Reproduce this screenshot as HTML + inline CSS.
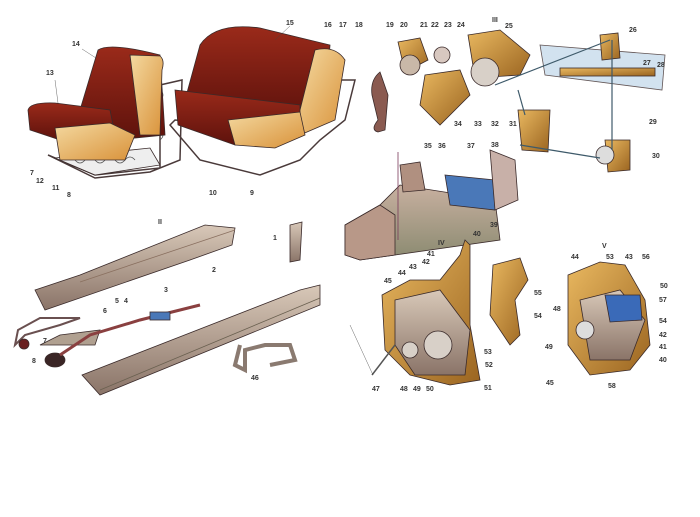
<!DOCTYPE html>
<html><head><meta charset="utf-8"><style>
html,body{margin:0;padding:0;background:#fff;width:700px;height:517px;overflow:hidden}
svg{display:block}
text{font-family:"Liberation Sans",sans-serif;font-size:7px;font-weight:bold;fill:#333}
</style></head><body>
<svg width="700" height="517" viewBox="0 0 700 517">
<defs>
<linearGradient id="red" x1="0" y1="0" x2="0" y2="1"><stop offset="0" stop-color="#9a2a1a"/><stop offset="1" stop-color="#5e120c"/></linearGradient>
<linearGradient id="tan" x1="0" y1="0" x2="1" y2="1"><stop offset="0" stop-color="#f4d9a0"/><stop offset="1" stop-color="#d9923a"/></linearGradient>
<linearGradient id="met" x1="0" y1="0" x2="0" y2="1"><stop offset="0" stop-color="#d8c8b8"/><stop offset="1" stop-color="#8a7468"/></linearGradient>
<linearGradient id="gold" x1="0" y1="0" x2="1" y2="1"><stop offset="0" stop-color="#e9b860"/><stop offset="1" stop-color="#9a6420"/></linearGradient>
<linearGradient id="grn" x1="0" y1="0" x2="0" y2="1"><stop offset="0" stop-color="#c8b0a0"/><stop offset="1" stop-color="#8a8a70"/></linearGradient>
</defs>
<g stroke="#3a2a2a" stroke-width="0.8">
<!-- left seat frame -->
<path d="M48,155 L95,175 L160,168 L160,85 L182,80 L180,160 L150,172 L95,178 Z" fill="none" stroke="#4a3a3a" stroke-width="1.5"/>
<path d="M55,158 L150,148 L160,165 L95,175 Z" fill="#eee"/>
<path d="M65,160 q5,-6 10,0 q5,6 10,0 q5,-6 10,0 q5,6 10,0 q5,-6 10,0 q5,6 10,0 q5,-6 10,0 M160,90 q6,5 0,10 q-6,5 0,10 q6,5 0,10 q-6,5 0,10 q6,5 0,10" fill="none" stroke="#555"/>
<path d="M98,50 Q110,42 160,55 L165,135 L115,140 L80,110 Z" fill="url(#red)"/>
<path d="M130,55 L160,56 Q165,60 162,70 L160,135 L140,135 Z" fill="url(#tan)"/>
<path d="M28,110 Q30,102 55,103 L110,110 L115,135 L60,140 L30,130 Z" fill="url(#red)"/>
<path d="M55,128 L110,123 L135,135 L125,160 L60,160 Z" fill="url(#tan)"/>
<!-- bench -->
<path d="M170,125 L200,160 L260,175 L300,160 L320,140 L345,120 L355,80 L340,80 L300,130 L175,120 Z" fill="none" stroke="#4a3a3a" stroke-width="1.5"/>
<path d="M200,45 Q215,22 260,28 L330,45 L325,110 L230,118 L185,100 Z" fill="url(#red)"/>
<path d="M175,90 L300,105 L300,135 L235,145 L178,125 Z" fill="url(#red)"/>
<path d="M315,50 Q335,45 345,60 L335,120 L300,135 L300,110 Z" fill="url(#tan)"/>
<path d="M228,120 L300,112 L305,135 L275,148 L235,145 Z" fill="url(#tan)"/>
<!-- window mechanism -->
<path d="M380,72 Q370,80 372,95 L378,120 Q370,130 378,132 L385,130 L388,95 Z" fill="#8a5a50"/>
<path d="M398,42 L420,38 L428,60 L405,72 Z" fill="url(#gold)"/>
<circle cx="410" cy="65" r="10" fill="#c9b8a8"/>
<circle cx="442" cy="55" r="8" fill="#d8c8c0"/>
<path d="M425,75 L460,70 L470,95 L440,125 L420,105 Z" fill="url(#gold)"/>
<path d="M468,35 L500,30 L530,55 L520,75 L475,78 Z" fill="url(#gold)"/>
<circle cx="485" cy="72" r="14" fill="#d8d0c8"/>
<path d="M540,45 L665,55 L662,90 L545,75 Z" fill="#c8dcec" opacity="0.8"/>
<rect x="560" y="68" width="95" height="8" fill="url(#gold)"/>
<path d="M600,35 L618,33 L620,58 L602,60 Z" fill="url(#gold)"/>
<path d="M518,110 L550,110 L548,152 L522,150 Z" fill="url(#gold)"/>
<path d="M605,140 L630,140 L630,170 L608,172 Z" fill="url(#gold)"/>
<circle cx="605" cy="155" r="9" fill="#ddd"/>
<g stroke="#3e5a6a" stroke-width="1.2" fill="none">
<line x1="495" y1="85" x2="610" y2="40"/><line x1="520" y1="145" x2="600" y2="158"/><line x1="612" y1="40" x2="612" y2="150"/><line x1="518" y1="90" x2="525" y2="115"/></g>
<!-- door handle -->
<path d="M345,225 L380,205 L400,185 L495,200 L500,240 L360,260 L345,255 Z" fill="url(#grn)"/>
<path d="M345,225 L380,205 L395,215 L395,255 L360,260 L345,255 Z" fill="#b89888"/>
<path d="M400,165 L420,162 L425,190 L403,192 Z" fill="#b09080"/>
<path d="M445,175 L495,180 L495,210 L450,205 Z" fill="#4a78b8"/>
<path d="M490,150 L515,160 L518,200 L495,210 Z" fill="#c8b0a8"/>
<line x1="398" y1="152" x2="398" y2="240" stroke="#7a3a5a"/>
<!-- lock IV -->
<path d="M382,295 L410,280 L440,280 L460,255 L465,240 L470,245 L470,325 L480,380 L450,385 L410,375 L385,350 Z" fill="url(#gold)"/>
<path d="M395,300 L440,290 L470,330 L465,375 L415,375 L395,345 Z" fill="url(#met)"/>
<circle cx="438" cy="345" r="14" fill="#d8d0c8"/>
<circle cx="410" cy="350" r="8" fill="#d8d0c8"/>
<line x1="372" y1="375" x2="395" y2="345" stroke="#555" stroke-width="1.5"/>
<path d="M493,265 L520,258 L528,280 L515,300 L520,335 L510,345 L490,315 Z" fill="url(#gold)"/>
<!-- lock V -->
<path d="M568,275 L600,262 L625,265 L645,300 L650,345 L630,370 L590,375 L568,345 Z" fill="url(#gold)"/>
<path d="M580,300 L620,290 L645,320 L630,360 L590,360 Z" fill="url(#met)"/>
<path d="M605,295 L640,295 L642,320 L610,322 Z" fill="#3a6ab8"/>
<circle cx="585" cy="330" r="9" fill="#ddd"/>
<!-- rails II -->
<path d="M35,290 L80,275 L205,225 L235,228 L232,245 L190,260 L45,310 Z" fill="url(#met)"/>
<path d="M80,282 L235,230" stroke="#8a7060"/>
<path d="M82,375 L300,290 L320,285 L320,305 L100,395 Z" fill="url(#met)"/>
<path d="M100,390 L320,298" stroke="#6a6050"/>
<path d="M290,225 L302,222 L300,260 L290,262 Z" fill="url(#met)"/>
<path d="M15,345 L18,330 L40,318 L80,318 L60,325 L25,335 Z" fill="none" stroke="#6a5050" stroke-width="2"/>
<circle cx="24" cy="344" r="5" fill="#6a2020"/>
<path d="M40,345 L60,335 L100,330 L95,345 Z" fill="#b0a090"/>
<ellipse cx="55" cy="360" rx="10" ry="7" fill="#3a2525"/>
<path d="M60,355 L90,335 L140,320 L200,305" stroke="#8a4040" stroke-width="3" fill="none"/>
<rect x="150" y="312" width="20" height="8" fill="#4a78b8"/>
<path d="M240,345 L235,365 L245,370 L245,350 L265,345 L290,345 L295,360 L270,365" fill="none" stroke="#8a7a70" stroke-width="4"/>
</g>
<g stroke="#444" stroke-width="0.4" fill="none">
<line x1="82" y1="49" x2="96" y2="58"/><line x1="55" y1="80" x2="58" y2="103"/>
<line x1="290" y1="26" x2="275" y2="40"/><line x1="373" y1="375" x2="350" y2="325"/>
</g>
<g>
<text x="72" y="46">14</text><text x="46" y="75">13</text><text x="286" y="25">15</text><text x="324" y="27">16</text><text x="339" y="27">17</text><text x="355" y="27">18</text>
<text x="30" y="175">7</text><text x="36" y="183">12</text><text x="52" y="190">11</text><text x="67" y="197">8</text><text x="209" y="195">10</text><text x="250" y="195">9</text>
<text x="386" y="27">19</text><text x="400" y="27">20</text><text x="420" y="27">21</text><text x="431" y="27">22</text><text x="444" y="27">23</text><text x="457" y="27">24</text><text x="492" y="22">III</text><text x="505" y="28">25</text>
<text x="629" y="32">26</text><text x="643" y="65">27</text><text x="657" y="67">28</text><text x="649" y="124">29</text><text x="652" y="158">30</text><text x="509" y="126">31</text><text x="491" y="126">32</text><text x="474" y="126">33</text><text x="454" y="126">34</text>
<text x="424" y="148">35</text><text x="438" y="148">36</text><text x="467" y="148">37</text><text x="491" y="147">38</text><text x="490" y="227">39</text><text x="473" y="236">40</text><text x="438" y="245">IV</text>
<text x="427" y="256">41</text><text x="422" y="264">42</text><text x="409" y="269">43</text><text x="398" y="275">44</text><text x="384" y="283">45</text>
<text x="372" y="391">47</text><text x="400" y="391">48</text><text x="413" y="391">49</text><text x="426" y="391">50</text><text x="484" y="390">51</text><text x="485" y="367">52</text><text x="484" y="354">53</text><text x="534" y="295">55</text><text x="534" y="318">54</text>
<text x="602" y="248">V</text><text x="571" y="259">44</text><text x="606" y="259">53</text><text x="625" y="259">43</text><text x="642" y="259">56</text><text x="660" y="288">50</text><text x="659" y="302">57</text><text x="659" y="323">54</text><text x="659" y="337">42</text><text x="659" y="349">41</text><text x="659" y="362">40</text>
<text x="553" y="311">48</text><text x="545" y="349">49</text><text x="546" y="385">45</text><text x="608" y="388">58</text>
<text x="158" y="224">II</text><text x="273" y="240">1</text><text x="212" y="272">2</text><text x="164" y="292">3</text><text x="124" y="303">4</text><text x="115" y="303">5</text><text x="103" y="313">6</text><text x="32" y="363">8</text><text x="43" y="343">7</text><text x="251" y="380">46</text>
</g>
</svg>
</body></html>
